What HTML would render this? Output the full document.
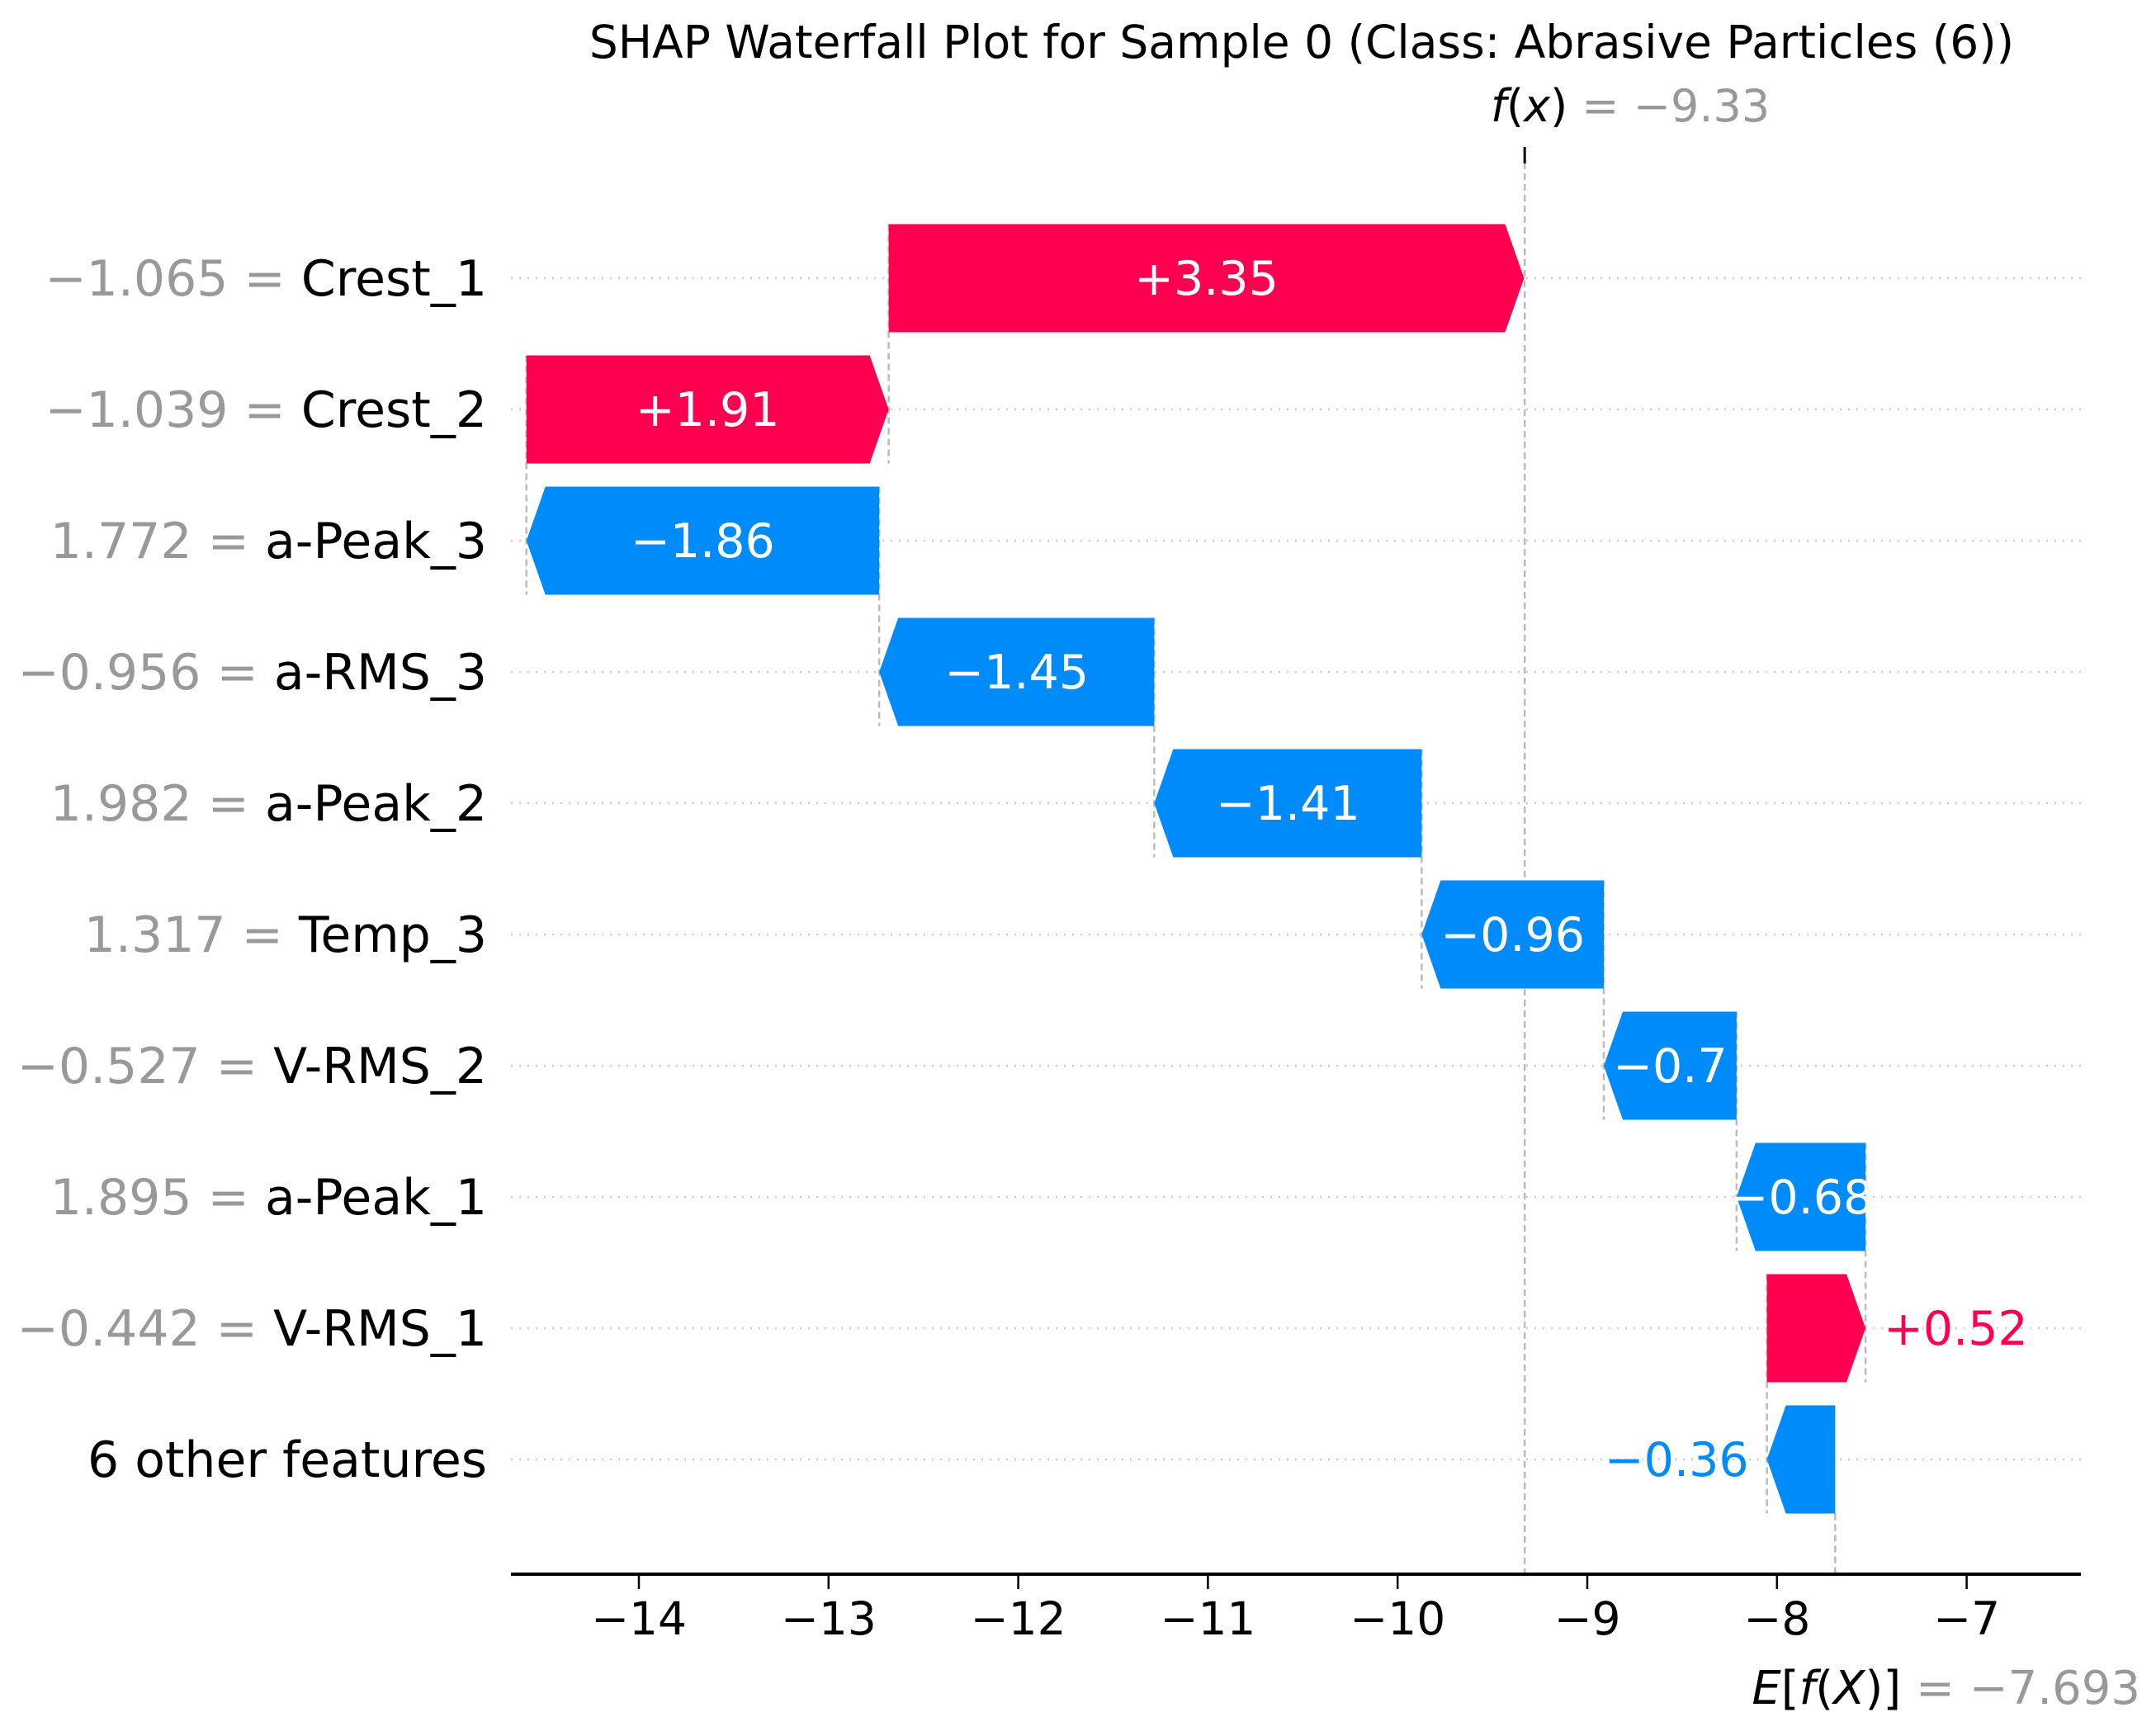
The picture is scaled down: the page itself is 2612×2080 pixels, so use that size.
<!DOCTYPE html>
<html><head><meta charset="utf-8"><style>
html,body{margin:0;padding:0;background:#fff;}
svg{display:block;font-family:"DejaVu Sans","Liberation Sans",sans-serif;}
</style></head><body>
<svg id="chart" width="2612" height="2080" viewBox="0 0 2612 2080" xmlns="http://www.w3.org/2000/svg">
<text x="1577" y="70" font-size="55" text-anchor="middle" fill="#000">SHAP Waterfall Plot for Sample 0 (Class: Abrasive Particles (6))</text>
<g id="grid"></g><g id="conn"></g><g id="bars"></g><g id="labels"></g><g id="axis"></g>
</svg>
<script>
const featureValues = ["\u22121.065","\u22121.039","1.772","\u22120.956","1.982","1.317","\u22120.527","1.895","\u22120.442",""];
const featureNames = ["Crest_1","Crest_2","a-Peak_3","a-RMS_3","a-Peak_2","Temp_3","V-RMS_2","a-Peak_1","V-RMS_1","6 other features"];
const shapValues = [3.35,1.91,-1.86,-1.45,-1.41,-0.96,-0.70,-0.68,0.52,-0.36];
const baseValue = -7.693;
const fxValue = -9.33;
const xTicks = [-14,-13,-12,-11,-10,-9,-8,-7];

const NS="http://www.w3.org/2000/svg";
const X0=774, PX=229.8, AXL=619, AXR=2521, AXY=1907;
const Y0=337, DY=159, BH=131, HEAD=23;
const RED="#ff0051", BLUE="#008bfb";
function xs(v){return X0+(v+14)*PX;}
function ys(i){return Y0+i*DY;}
function mk(tag,attrs,parent){const e=document.createElementNS(NS,tag);for(const k in attrs)e.setAttribute(k,attrs[k]);parent.appendChild(e);return e;}
const grid=document.getElementById('grid'),conn=document.getElementById('conn'),bars=document.getElementById('bars'),labels=document.getElementById('labels'),axis=document.getElementById('axis');
function fmt(v){const s=Math.abs(v).toFixed(2).replace(/0$/,'');return (v>=0?'+':'\u2212')+s;}

const n=shapValues.length;
const starts=new Array(n), ends=new Array(n);
let cur=baseValue;
for(let i=n-1;i>=0;i--){starts[i]=cur;ends[i]=cur+shapValues[i];cur=ends[i];}

for(let i=0;i<n;i++){
  const y=ys(i);
  const g=mk('line',{x1:AXL,x2:AXR,y1:y,y2:y,stroke:'#cccccc','stroke-width':2.5,'stroke-dasharray':'2,8'},grid);
  
  
  const t=mk('text',{x:590,y:y+21,'font-size':60,'text-anchor':'end'},labels);
  
  
  if(featureValues[i]){
    const a=mk('tspan',{fill:'#999999'},t);a.textContent=featureValues[i]+' = ';
  }
  const b=mk('tspan',{fill:'#000'},t);b.textContent=featureNames[i];
  const v=shapValues[i], xa=xs(starts[i]), xb=xs(ends[i]);
  const w=Math.abs(xb-xa), hl=Math.min(HEAD,w), top=y-BH/2, bot=y+BH/2;
  let pts;
  if(v>=0) pts=[[xa,top],[xb-hl,top],[xb,y],[xb-hl,bot],[xa,bot]];
  else pts=[[xa,top],[xb+hl,top],[xb,y],[xb+hl,bot],[xa,bot]];
  const p=mk('polygon',{points:pts.map(q=>q.join(',')).join(' '),fill:v>=0?RED:BLUE},bars);
  
  
  const inside=w>140;
  let lx,anchor,col;
  if(inside){lx=(xa+xb)/2;anchor='middle';col='#fff';}
  else if(v>=0){lx=xb+22;anchor='start';col=RED;}
  else {lx=xb-22;anchor='end';col=BLUE;}
  const vl=mk('text',{x:lx,y:y+20,'font-size':57,'text-anchor':anchor,fill:col},labels);
  
  
  vl.textContent=fmt(v);
  if(i<n-1){
    const c=mk('line',{x1:xa,x2:xa,y1:top,y2:ys(i+1)+BH/2,stroke:'#bbbbbb','stroke-width':2.5,'stroke-dasharray':'8,5'},conn);
    
    
  }
}
const fl=mk('line',{x1:xs(fxValue),x2:xs(fxValue),y1:197,y2:AXY,stroke:'#bbbbbb','stroke-width':2.5,'stroke-dasharray':'8,5'},conn);


const ft=mk('line',{x1:xs(fxValue),x2:xs(fxValue),y1:178,y2:198,stroke:'#000','stroke-width':3},axis);


const el=mk('line',{x1:xs(baseValue),x2:xs(baseValue),y1:ys(n-1)+BH/2,y2:AXY,stroke:'#bbbbbb','stroke-width':2.5,'stroke-dasharray':'8,5'},conn);



const al=mk('line',{x1:AXL,x2:AXR,y1:AXY,y2:AXY,stroke:'#000','stroke-width':4},axis);


xTicks.forEach(v=>{
  const tk=mk('line',{x1:xs(v),x2:xs(v),y1:AXY,y2:AXY+18,stroke:'#000','stroke-width':2.5},axis);
  
  
  const tl=mk('text',{x:xs(v),y:1980,'font-size':55,'text-anchor':'middle',fill:'#000'},axis);
  
  
  tl.textContent='\u2212'+Math.abs(v);
});
const fx=mk('text',{x:1806,y:147,'font-size':54,fill:'#000'},axis);


fx.innerHTML='<tspan font-style="italic">f</tspan>(<tspan font-style="italic">x</tspan>)<tspan fill="#999999"> = \u2212'+Math.abs(fxValue).toFixed(2)+'</tspan>';
const ex=mk('text',{x:2593,y:2064,'font-size':56,fill:'#000','text-anchor':'end'},axis);


ex.innerHTML='<tspan font-style="italic">E</tspan>[<tspan font-style="italic">f</tspan>(<tspan font-style="italic">X</tspan>)]<tspan fill="#999999"> = \u2212'+Math.abs(baseValue).toFixed(3)+'</tspan>';
</script>
</body></html>
